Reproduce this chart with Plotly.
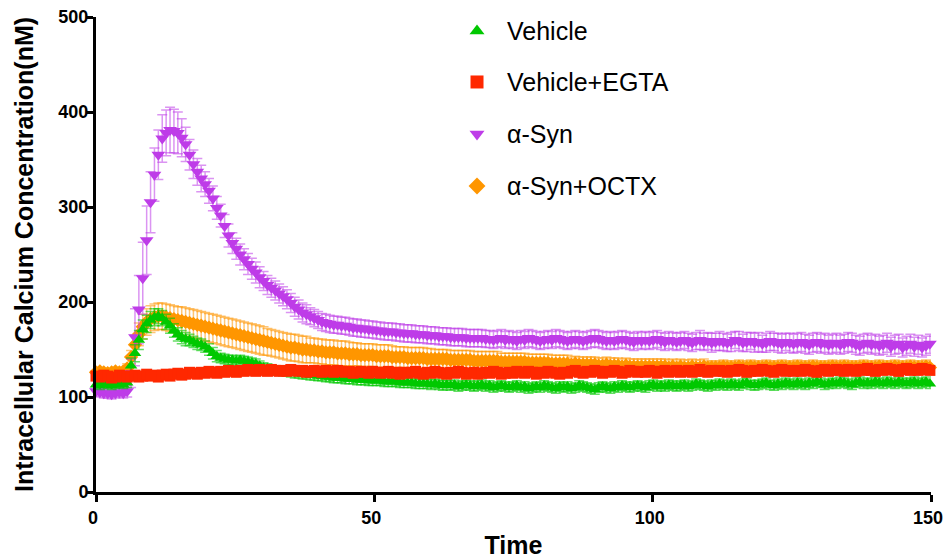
import plotly.graph_objects as go

# time axis (s), sampled every 0.7 s
time = [round(0.7 * i, 1) for i in range(215)]

veh = [
    113,112,114,113,112,113,114,113,115,133,
    146,160,171,177,181,184,185,183,179,175,
    170,166,163,161,160,158,156,155,153,150,
    146,143,141,140,139,139,138,139,138,137,
    136,135,133,131,130,129,128,128,127,127,
    126,125,125,124,124,123,123,122,122,121,
    121,120,120,120,119,119,119,118,118,118,
    117,117,117,117,116,116,116,116,115,115,
    115,115,114,114,114,114,113,114,113,112,
    113,112,113,111,112,113,112,111,112,113,
    111,112,110,111,112,111,110,111,112,110,
    111,109,110,111,110,112,111,110,109,111,
    110,111,109,110,112,111,110,109,108,110,
    111,110,109,111,110,112,111,110,111,112,
    111,110,112,113,111,112,111,113,112,111,
    112,113,111,112,114,113,112,111,113,112,
    114,113,112,114,113,112,114,115,113,112,
    113,114,115,113,112,114,113,115,114,113,
    115,114,113,115,114,116,115,113,114,115,
    114,116,115,114,113,115,116,114,115,114,
    116,115,114,116,115,114,116,115,114,115,
    116,114,115,116,114]
veh_err = [
    4,4,4,4,4,4,4,4,5,8,
    9,10,10,9,9,9,8,8,8,8,
    7,7,7,7,6,6,6,6,6,6,
    6,6,5,5,5,5,5,5,5,5,
    5,5,5,5,5,5,5,5,5,5,
    5,5,5,5,5,5,5,5,5,5,
    5,5,5,5,5,5,5,5,5,5,
    5,5,5,5,5,5,5,5,5,5,
    5,5,5,5,5,5,5,5,5,5,
    5,5,5,5,5,5,5,5,5,5,
    5,5,5,5,5,5,5,5,5,5,
    5,5,5,5,5,5,5,5,5,5,
    5,5,5,5,5,5,5,5,5,5,
    5,5,5,5,5,5,5,5,5,5,
    5,5,5,5,5,5,5,5,5,5,
    5,5,5,5,5,5,5,5,5,5,
    5,5,5,5,5,5,5,5,5,5,
    5,5,5,5,5,5,5,5,5,5,
    5,5,5,5,5,5,5,5,5,5,
    5,5,5,5,5,5,5,5,5,5,
    5,5,5,5,5,5,5,5,5,5,
    5,5,5,5,5]

egta = [
    122,121,123,122,120,121,123,122,121,122,
    123,121,122,124,122,123,121,123,124,122,
    124,125,123,124,126,125,124,126,125,127,
    126,125,127,126,128,127,126,128,127,129,
    128,127,129,128,127,129,128,127,128,127,
    129,128,127,128,126,127,128,127,126,128,
    127,126,128,127,126,127,125,126,127,126,
    125,127,126,125,126,127,125,126,124,126,
    125,126,127,125,124,126,125,127,126,125,
    124,126,125,127,126,124,125,126,124,125,
    126,125,127,126,124,125,126,125,127,126,
    125,127,126,124,126,125,127,126,125,124,
    126,125,127,128,126,125,127,126,128,127,
    125,127,126,128,127,125,126,128,127,126,
    127,126,128,127,125,127,128,126,127,128,
    126,127,128,126,127,129,127,126,128,127,
    128,127,126,128,127,129,128,126,127,128,
    127,129,128,127,126,128,129,127,128,127,
    128,127,129,128,127,126,128,129,127,128,
    129,128,127,129,128,127,129,128,130,128,
    127,129,128,130,129,128,127,129,130,128,
    129,128,130,129,128]
egta_err = [
    4,4,4,4,4,4,4,4,4,4,
    4,4,4,4,4,4,4,4,4,4,
    4,4,4,4,4,4,4,4,4,4,
    4,4,4,4,4,4,4,4,4,4,
    4,4,4,4,4,4,4,4,4,4,
    4,4,4,4,4,4,4,4,4,4,
    4,4,4,4,4,4,4,4,4,4,
    4,4,4,4,4,4,4,4,4,4,
    4,4,4,4,4,4,4,4,4,4,
    4,4,4,4,4,4,4,4,4,4,
    4,4,4,4,4,4,4,4,4,4,
    4,4,4,4,4,4,4,4,4,4,
    4,4,4,4,4,4,4,4,4,4,
    4,4,4,4,4,4,4,4,4,4,
    4,4,4,4,4,4,4,4,4,4,
    4,4,4,4,4,4,4,4,4,4,
    4,4,4,4,4,4,4,4,4,4,
    4,4,4,4,4,4,4,4,4,4,
    4,4,4,4,4,4,4,4,4,4,
    4,4,4,4,4,4,4,4,4,4,
    4,4,4,4,4,4,4,4,4,4,
    4,4,4,4,4]

syn = [
    106,105,104,104,103,104,105,104,106,125,
    163,192,225,265,305,334,355,372,378,381,
    380,378,373,366,355,345,337,330,324,317,
    309,299,291,280,270,262,256,250,245,240,
    235,231,226,222,218,215,212,209,206,203,
    199,195,192,189,187,185,183,181,179,178,
    177,176,176,175,175,174,173,173,172,172,
    171,171,170,170,169,169,169,168,168,167,
    167,167,166,166,166,165,165,165,164,164,
    164,163,163,163,163,162,162,162,162,162,
    161,161,160,161,162,160,161,160,159,161,
    160,162,161,160,159,160,161,160,162,161,
    160,159,160,161,160,159,160,161,162,161,
    160,159,160,159,160,161,160,159,158,160,
    159,160,159,160,161,159,158,160,159,158,
    159,160,158,157,159,160,158,159,157,158,
    159,158,157,158,160,159,157,158,159,157,
    158,156,157,159,158,157,156,158,157,156,
    157,158,156,155,157,158,156,157,155,156,
    157,155,156,158,157,155,154,156,157,155,
    156,154,155,157,153,155,156,152,154,156,
    153,155,152,154,156]
syn_err = [
    5,5,5,5,5,5,5,5,6,15,
    30,36,38,36,32,28,26,25,24,24,
    23,22,20,18,16,15,14,14,13,13,
    13,12,12,12,12,11,11,11,11,11,
    11,11,11,10,10,10,10,10,10,10,
    10,10,10,10,10,9,9,9,9,9,
    9,9,9,9,9,9,9,9,9,9,
    9,9,9,9,9,9,9,9,9,9,
    9,9,9,9,9,9,9,9,9,9,
    9,9,9,9,9,9,9,9,9,9,
    9,9,9,9,9,9,9,9,9,9,
    9,9,9,9,9,9,9,9,9,9,
    9,9,9,9,9,9,9,9,9,9,
    9,9,9,9,9,9,9,9,9,9,
    9,9,9,9,9,9,9,9,9,9,
    9,9,9,9,9,10,9,9,10,9,
    10,9,9,10,9,10,9,10,9,10,
    10,9,10,10,9,10,10,9,10,10,
    10,10,10,10,10,10,10,10,10,10,
    10,10,10,10,10,10,10,10,10,10,
    10,10,10,10,10,10,10,10,10,10,
    10,10,10,10,10]

octx = [
    126,127,126,125,126,127,126,127,130,142,
    155,166,174,179,182,184,185,185,184,183,
    182,181,180,179,178,177,176,175,174,173,
    172,171,170,169,168,167,166,165,164,163,
    162,161,160,159,158,157,156,155,154,153,
    152,152,151,150,150,149,149,148,148,147,
    147,147,146,146,146,145,145,145,144,144,
    144,144,143,143,143,143,142,142,142,142,
    141,141,141,141,141,140,140,140,140,140,
    140,139,139,139,139,139,139,138,138,138,
    138,138,138,138,137,137,137,137,137,137,
    137,136,136,136,136,136,136,135,135,135,
    135,135,134,135,134,134,134,134,134,133,
    133,134,133,133,133,132,133,132,132,132,
    132,132,132,132,132,132,132,131,132,131,
    132,131,131,132,131,131,132,131,131,131,
    131,132,131,131,131,132,131,131,132,131,
    131,131,132,131,131,131,132,131,131,131,
    132,131,131,131,132,131,131,131,131,132,
    131,131,132,131,131,131,131,132,131,131,
    131,132,131,131,131,132,131,131,131,132,
    131,131,131,132,131]
octx_err = [
    4,4,4,4,4,4,4,4,5,7,
    10,12,13,14,14,14,14,14,14,14,
    14,14,15,15,15,15,15,15,15,15,
    15,15,15,15,15,15,15,15,15,15,
    15,15,15,15,14,14,14,14,14,14,
    14,14,14,14,14,13,13,13,13,13,
    13,13,13,13,13,13,12,12,12,12,
    12,12,12,12,12,12,12,11,11,11,
    11,11,11,11,11,11,11,10,10,10,
    10,10,10,10,10,10,10,10,10,10,
    10,10,10,10,9,9,9,9,9,9,
    9,9,9,9,9,9,9,9,9,9,
    9,9,8,8,8,8,8,8,8,8,
    8,8,8,8,8,8,8,8,8,8,
    8,8,8,8,8,8,8,8,8,8,
    8,8,8,8,8,8,8,7,7,7,
    7,7,7,7,7,7,7,7,7,7,
    7,7,7,7,7,7,7,7,7,7,
    7,7,7,7,7,7,7,7,7,7,
    7,7,7,7,7,7,7,7,7,7,
    7,7,7,7,7,7,7,7,7,7,
    7,7,7,7,7]

names = ["Vehicle", "Vehicle+EGTA", "α-Syn", "α-Syn+OCTX"]
colors = ["rgb(0,200,0)", "rgb(255,40,0)", "rgb(190,60,232)", "rgb(255,150,0)"]
bar_colors = ["rgba(0,200,0,0.6)", "rgba(255,40,0,0.5)", "rgba(190,60,232,0.55)", "rgba(255,150,0,0.55)"]
symbols = ["triangle-up", "square", "triangle-down", "diamond"]
sizes = [11, 11, 12, 11]
series = [veh, egta, syn, octx]
errs = [veh_err, egta_err, syn_err, octx_err]

fig = go.Figure()
# drawing order: orange, purple, green, red (red on top)
for k in [3, 2, 0, 1]:
    fig.add_trace(go.Scatter(
        x=time, y=series[k], mode="markers", showlegend=False, cliponaxis=False,
        marker=dict(symbol=symbols[k], size=sizes[k], color=colors[k], line=dict(width=0)),
        error_y=dict(type="data", array=errs[k], color=bar_colors[k], thickness=1.5, width=5),
    ))

# legend drawn as a key on an overlay axis (fractions of the plot area)
key_x = 0.4563
key_text_x = 0.4895
key_y = [0.9705, 0.8632, 0.7537, 0.6442]
annotations = []
for k in range(4):
    fig.add_trace(go.Scatter(
        x=[key_x], y=[key_y[k]], mode="markers", showlegend=False, cliponaxis=False,
        xaxis="x2", yaxis="y2", hoverinfo="skip",
        marker=dict(symbol=symbols[k], size=13, color=colors[k], line=dict(width=0)),
    ))
    annotations.append(dict(text=names[k], xref="paper", yref="paper", x=key_text_x, y=key_y[k],
                            xanchor="left", yanchor="middle", showarrow=False,
                            font=dict(family="Liberation Sans, Arial", size=25, color="black")))

annotations.append(dict(text="Intracellular Calcium Concentration(nM)", xref="paper", yref="paper",
                        x=(24 - 96) / 835, y=(492 - 255) / 475, xanchor="center", yanchor="middle",
                        textangle=-90, showarrow=False,
                        font=dict(family="Liberation Sans, Arial", size=25, color="black", weight="bold")))

axis_font = dict(family="Liberation Sans, Arial", size=18, color="black", weight="bold")
fig.update_layout(
    width=944, height=559,
    margin=dict(l=96, r=13, t=17, b=67),
    plot_bgcolor="white", paper_bgcolor="white",
    showlegend=False,
    xaxis=dict(range=[0, 150], tickvals=[0, 50, 100, 150], showline=True, linewidth=3,
               linecolor="black", ticks="outside", ticklen=7, tickwidth=3, tickcolor="black",
               showgrid=False, zeroline=False, tickfont=axis_font, automargin=False,
               ticklabeloverflow="allow", ticklabelshift=-3,
               title=dict(text="Time", standoff=16,
                          font=dict(family="Liberation Sans, Arial", size=25, color="black", weight="bold"))),
    yaxis=dict(range=[0, 500], tickvals=[0, 100, 200, 300, 400, 500], showline=True, linewidth=3,
               linecolor="black", ticks="outside", ticklen=7, tickwidth=3, tickcolor="black",
               showgrid=False, zeroline=False, tickfont=axis_font, automargin=False,
               ticklabeloverflow="allow", ticklabelstandoff=-6),
    xaxis2=dict(range=[0, 1], overlaying="x", visible=False, automargin=False),
    yaxis2=dict(range=[0, 1], overlaying="y", visible=False, automargin=False),
    annotations=annotations,
)

fig.write_html("out.html")
